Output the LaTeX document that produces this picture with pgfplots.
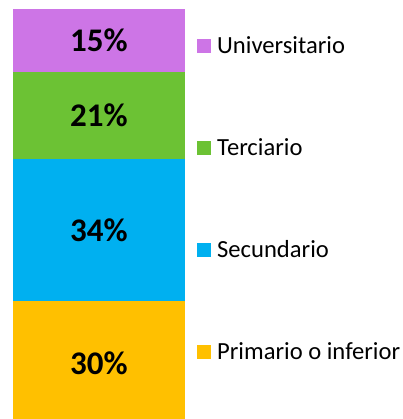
\documentclass[border=0pt]{standalone}
\usepackage{pgfplots}
\pgfplotsset{compat=1.18}
\usepackage{fontspec}
\setmainfont{Carlito}
\definecolor{cUni}{RGB}{205,117,230}
\definecolor{cTer}{RGB}{108,194,52}
\definecolor{cSec}{RGB}{0,176,240}
\definecolor{cPri}{RGB}{255,192,0}
\begin{document}
\begin{tikzpicture}
\begin{axis}[
  scale only axis, width=402pt, height=419pt,
  xmin=0, xmax=402, ymin=1.68, ymax=102.16,
  hide axis,
  ybar stacked, bar width=172pt,
  point meta=explicit symbolic,
  nodes near coords,
  nodes near coords style={font=\fontsize{33}{36}\selectfont\bfseries, anchor=center, text=black},
  every axis plot post/.append style={legend image code/.code={\fill[##1] (0pt,0pt) rectangle (14pt,14pt);}},
  reverse legend,
  legend style={at={(0.490,0.914)}, anchor=north west, draw=none, fill=none,
    inner sep=0pt, row sep=80pt, column sep=6pt,
    font=\fontsize{24.6}{28}\selectfont,
    nodes={inner sep=0pt, text height=17pt, text depth=5pt},
    cells={anchor=base west}},
]
\addplot[fill=cPri, draw=none] coordinates {(99,30) [30\%]};
\addplot[fill=cSec, draw=none] coordinates {(99,34) [34\%]};
\addplot[fill=cTer, draw=none] coordinates {(99,21) [21\%]};
\addplot[fill=cUni, draw=none] coordinates {(99,15) [15\%]};
\legend{Primario o inferior, Secundario, Terciario, Universitario}
\end{axis}
\pgfresetboundingbox
\path (current axis.south west) rectangle (current axis.north east);
\end{tikzpicture}
\end{document}
